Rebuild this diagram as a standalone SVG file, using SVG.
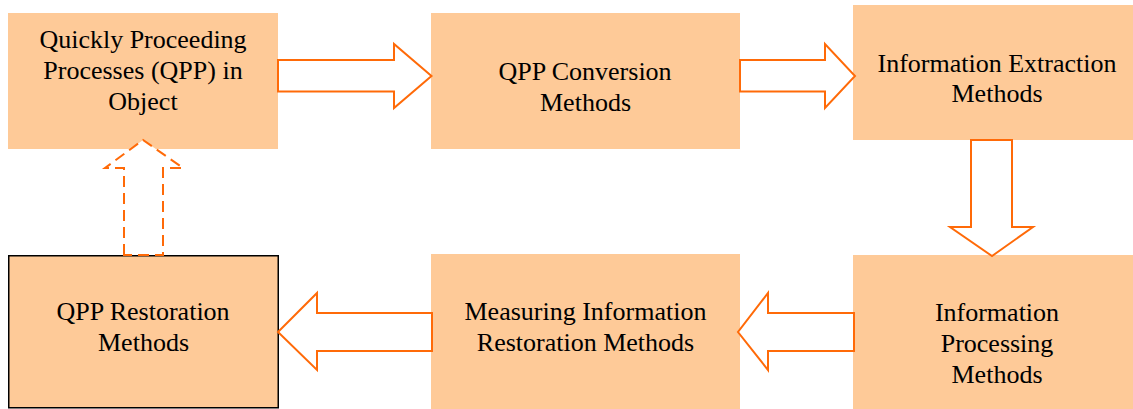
<svg xmlns="http://www.w3.org/2000/svg" width="1133" height="409" viewBox="0 0 1133 409">
<style>
.box{fill:#FECA98;stroke:none}
.boxb{fill:#FECA98;stroke:#000;stroke-width:1.5}
.arr{fill:#fff;stroke:#FF6A08;stroke-width:2}
.dash{fill:#fff;stroke:#FF6A08;stroke-width:2;stroke-dasharray:11 6}
</style>
<rect width="1133" height="409" fill="#fff"/>
<g id="n1"><rect class="box" x="8" y="13" width="270" height="136"/>
<text x="39.4" y="48" font-family="Liberation Serif" font-size="26">Quickly Proceeding</text>
<text x="43.3" y="79" font-family="Liberation Serif" font-size="26">Processes (QPP) in</text>
<text x="108.3" y="110" font-family="Liberation Serif" font-size="26">Object</text></g>
<g id="n2"><rect class="box" x="431" y="13" width="309" height="136"/>
<text x="498.5" y="80" font-family="Liberation Serif" font-size="26">QPP Conversion</text>
<text x="540" y="111" font-family="Liberation Serif" font-size="26">Methods</text></g>
<g id="n3"><rect class="box" x="853" y="5" width="280" height="135"/>
<text x="877.5" y="72" font-family="Liberation Serif" font-size="26">Information Extraction</text>
<text x="951.5" y="102" font-family="Liberation Serif" font-size="26">Methods</text></g>
<g id="n4"><rect class="boxb" x="8.75" y="255.75" width="269.5" height="152"/>
<text x="56.5" y="320" font-family="Liberation Serif" font-size="26">QPP Restoration</text>
<text x="98" y="351" font-family="Liberation Serif" font-size="26">Methods</text></g>
<g id="n5"><rect class="box" x="431" y="254" width="309" height="155"/>
<text x="464.5" y="320" font-family="Liberation Serif" font-size="26">Measuring Information</text>
<text x="476.8" y="351" font-family="Liberation Serif" font-size="26">Restoration Methods</text></g>
<g id="n6"><rect class="box" x="853" y="255" width="280" height="154"/>
<text x="934.9" y="321" font-family="Liberation Serif" font-size="26">Information</text>
<text x="940.7" y="352" font-family="Liberation Serif" font-size="26">Processing</text>
<text x="951.5" y="383" font-family="Liberation Serif" font-size="26">Methods</text></g>
<g id="connectors">
<polygon class="arr" points="278,60 394,60 394,44 431.5,76 394,108 394,91.5 278,91.5"/>
<polygon class="arr" points="740,60 825,60 825,44 855,76 825,108 825,91.5 740,91.5"/>
<polygon class="arr" points="971,140 1012,140 1012,227 1033,227 992,256 950,227 971,227"/>
<polygon class="arr" points="854,313 768,313 768,293 738,332 768,370 768,351 854,351"/>
<polygon class="arr" points="432,313 317,313 317,293 278,332 317,370 317,351 432,351"/>
<polygon class="dash" points="124,255 124,168 105,168 143,140 183,168 163,168 163,255"/>
</g>
</svg>
